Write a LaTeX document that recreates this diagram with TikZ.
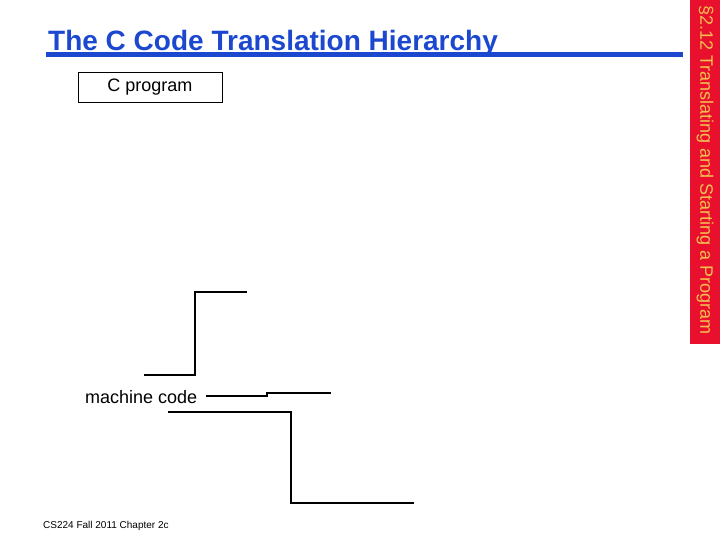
\documentclass[tikz,border=0pt]{standalone}
\usepackage{fontspec}
\setmainfont{Liberation Sans}
\usetikzlibrary{positioning,calc}
\definecolor{titleblue}{RGB}{28,72,208}
\definecolor{barred}{RGB}{232,16,44}
\definecolor{bargold}{RGB}{242,192,80}
\tikzset{
	stage/.style={draw,line width=0.8pt,minimum width=144pt,minimum height=30pt,inner sep=0pt,font=\fontsize{18}{21}\selectfont},
	wire/.style={line width=1.3pt},
}

\begin{document}
\begin{tikzpicture}[x=1pt,y=-1pt]
		\useasboundingbox (0,0) rectangle (720,540);
		\fill[barred] (690,0) rectangle (720,344);
		\node[rotate=-90,text=bargold,font=\fontsize{18}{21}\selectfont,inner sep=0pt] (side) at (705,170) {\S2.12 Translating and Starting a Program};
		%
		\node[anchor=base west,text=titleblue,font=\bfseries\fontsize{28}{32}\selectfont,inner sep=0pt] (title) at (48,51) {The C Code Translation Hierarchy};
		\draw[titleblue,line width=4.5pt] (46,54.5) -- (683,54.5);
		%
		\node[stage] (cprog) at (150,87) {\raisebox{-1pt}{C program}};
		\node[anchor=west,font=\fontsize{18}{21}\selectfont,inner sep=6pt] (mcode) at (79,397) {machine code};
		\node[anchor=base west,font=\fontsize{10}{12}\selectfont,inner sep=0pt] (foot) at (43,528) {CS224 Fall 2011 Chapter 2c};
		%
		\coordinate (asmin) at (144,375);
		\coordinate (asmbend) at (195,292);
		\coordinate (asmout) at (247,292);
		\coordinate (jog) at (267,396);
		\coordinate (loadout) at (331,393);
		\coordinate (linkin) at (168,412);
		\coordinate (linkbend) at (291,503);
		\coordinate (linkout) at (414,503);
		%
		\draw[wire] (asmin) -| (asmbend) -- (asmout);
		\draw[wire,shorten <=3pt] (mcode.east |- jog) -- (jog) |- (loadout);
		\draw[wire] (linkin) -| (linkbend) -- (linkout);
	\end{tikzpicture}
\end{document}
